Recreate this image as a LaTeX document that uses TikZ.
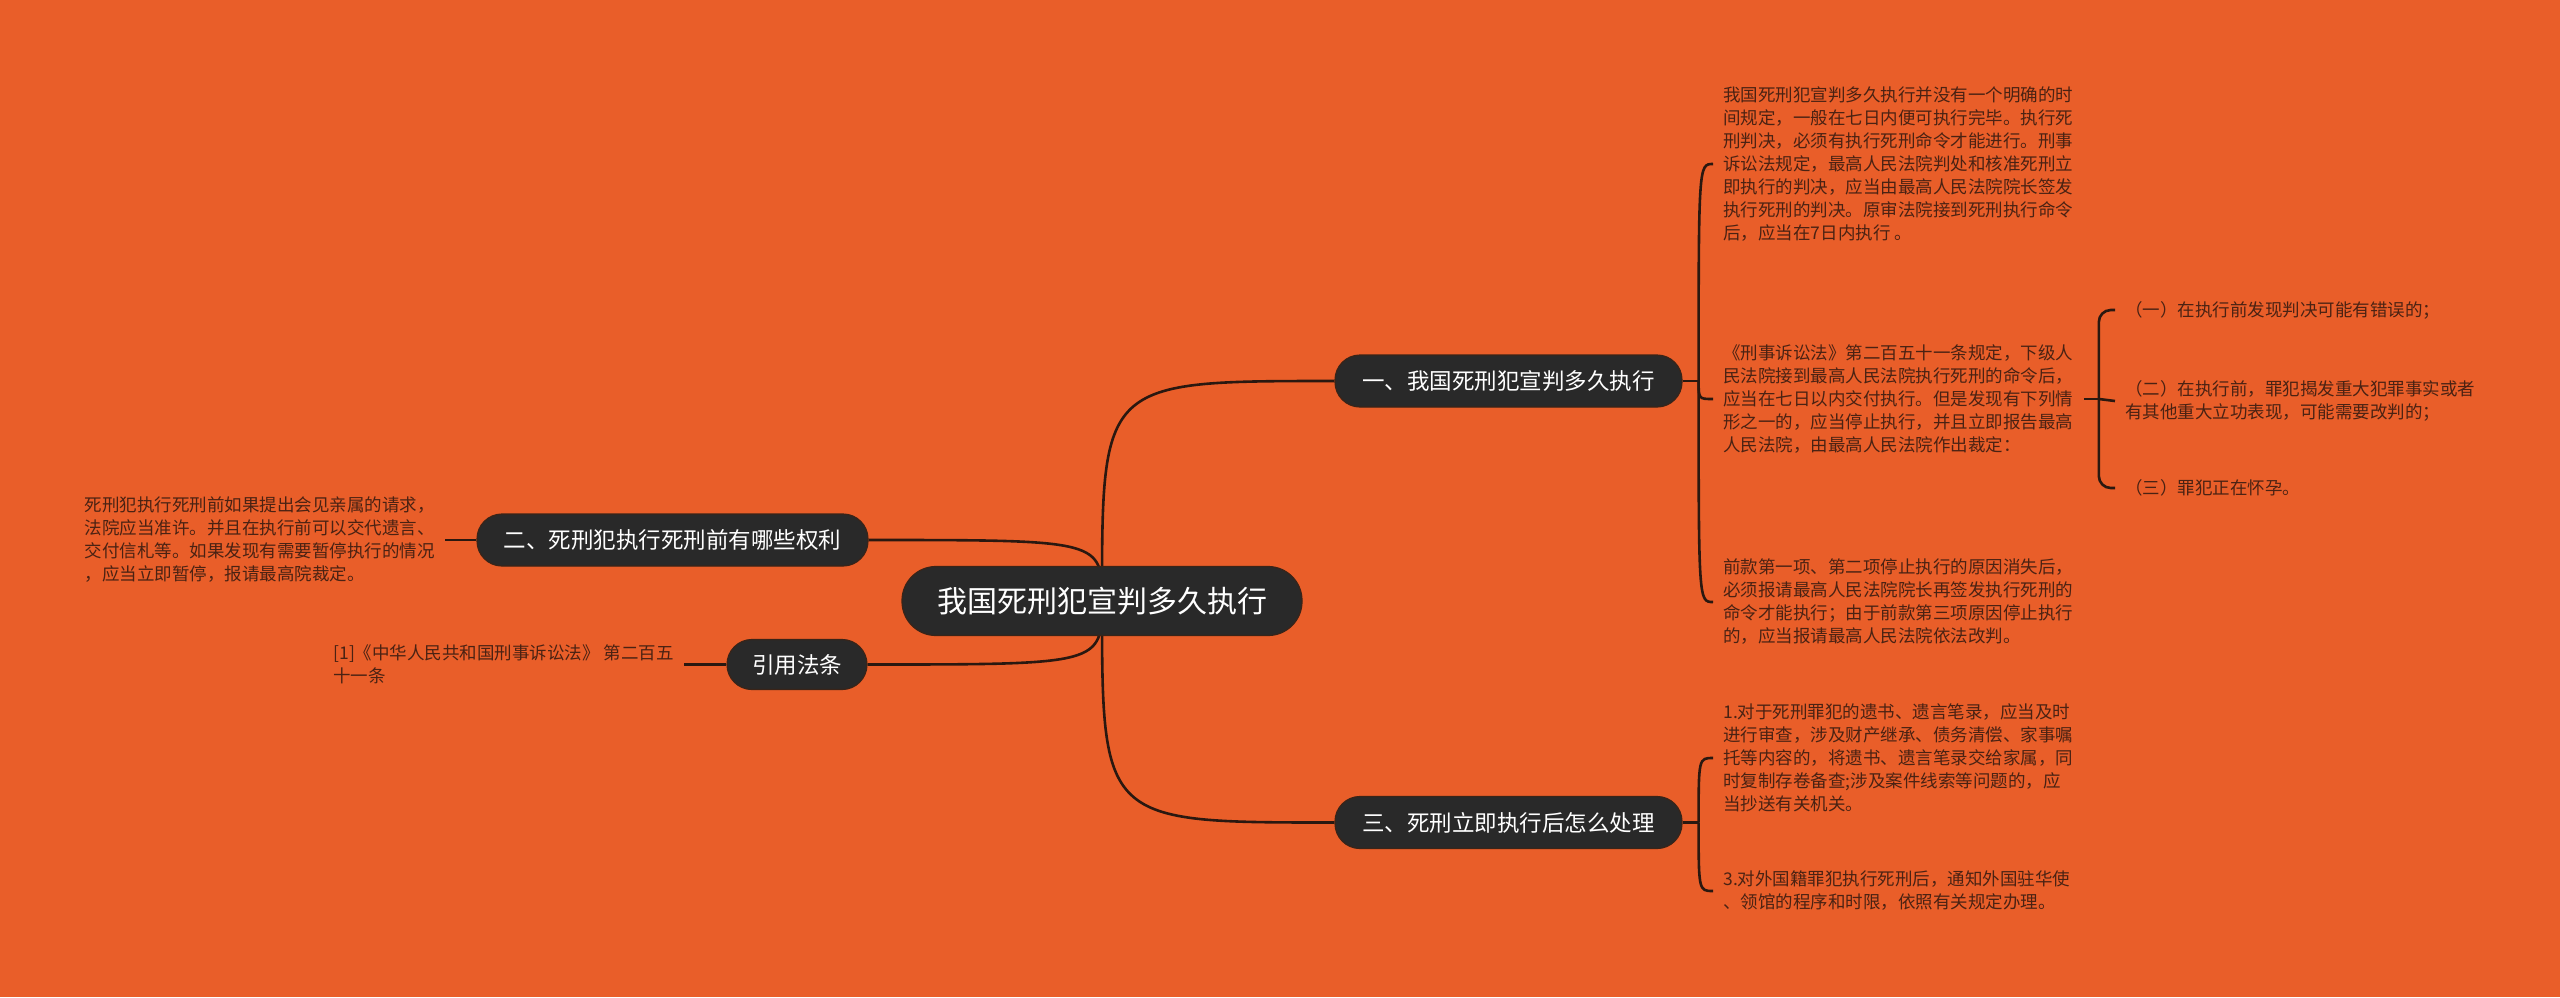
\documentclass[tikz,border=0pt]{standalone}
\usepackage{fontspec}
\newfontfamily\cjk{Noto Sans CJK SC}
\definecolor{bgor}{HTML}{E95E29}
\definecolor{boxc}{HTML}{292929}
\definecolor{boxline}{HTML}{3A2418}
\definecolor{leafc}{HTML}{4A2213}
\definecolor{linec}{HTML}{2A1810}
\pgfdeclarelayer{bglayer}
\pgfdeclarelayer{linelayer}
\pgfsetlayers{bglayer,linelayer,main}
\tikzset{
 rootbox/.style={fill=boxc, draw=boxline, line width=0.6pt, rounded corners=17pt, minimum width=200pt, minimum height=34.5pt, inner sep=0pt, text=white, font=\cjk\fontsize{15pt}{18pt}\selectfont},
 branchbox/.style={fill=boxc, draw=boxline, line width=0.6pt, rounded corners=12.5pt, minimum height=26pt, inner sep=0pt, text=white, font=\cjk\fontsize{11.25pt}{13.5pt}\selectfont},
 leaf/.style={align=left, inner xsep=5pt, inner ysep=0pt, text=leafc, font=\cjk\fontsize{8.75pt}{11.5pt}\selectfont},
 conn/.style={draw=linec, line width=1.3pt},
}
\begin{document}
\begin{tikzpicture}[x=0.5pt,y=-0.5pt]
\begin{pgfonlayer}{bglayer}
\fill[bgor] (0,0) rectangle (2560,997);
\end{pgfonlayer}
\useasboundingbox (0,0) rectangle (2560,997);

% main nodes
\node[rootbox] (root) at (1102,601) {我国死刑犯宣判多久执行};
\node[branchbox, minimum width=173.5pt] (b1) at (1508.5,381) {一、我国死刑犯宣判多久执行};
\node[branchbox, minimum width=195.5pt] (b2) at (672.5,540) {二、死刑犯执行死刑前有哪些权利};
\node[branchbox, minimum width=173.5pt] (b3) at (1508.5,822.5) {三、死刑立即执行后怎么处理};
\node[branchbox, minimum width=70pt, minimum height=25pt] (b4) at (797,664.5) {引用法条};

% leaves of branch 1
\node[leaf, anchor=west] (t1) at (1713,164) {我国死刑犯宣判多久执行并没有一个明确的时\\间规定，一般在七日内便可执行完毕。执行死\\刑判决，必须有执行死刑命令才能进行。刑事\\诉讼法规定，最高人民法院判处和核准死刑立\\即执行的判决，应当由最高人民法院院长签发\\执行死刑的判决。原审法院接到死刑执行命令\\后，应当在7日内执行 。};
\node[leaf, anchor=west] (t2) at (1713,399) {《刑事诉讼法》第二百五十一条规定，下级人\\民法院接到最高人民法院执行死刑的命令后，\\应当在七日以内交付执行。但是发现有下列情\\形之一的，应当停止执行，并且立即报告最高\\人民法院，由最高人民法院作出裁定：};
\node[leaf, anchor=west] (t3) at (1713,602) {前款第一项、第二项停止执行的原因消失后，\\必须报请最高人民法院院长再签发执行死刑的\\命令才能执行；由于前款第三项原因停止执行\\的，应当报请最高人民法院依法改判。};

% children of t2
\node[leaf, anchor=west] (c1) at (2115,310) {（一）在执行前发现判决可能有错误的；};
\node[leaf, anchor=west] (c2) at (2115,401) {（二）在执行前，罪犯揭发重大犯罪事实或者\\有其他重大立功表现，可能需要改判的；};
\node[leaf, anchor=west] (c3) at (2115,488) {（三）罪犯正在怀孕。};

% leaves of branch 3
\node[leaf, anchor=west] (t4) at (1713,758) {1.对于死刑罪犯的遗书、遗言笔录，应当及时\\进行审查，涉及财产继承、债务清偿、家事嘱\\托等内容的，将遗书、遗言笔录交给家属，同\\时复制存卷备查;涉及案件线索等问题的，应\\当抄送有关机关。};
\node[leaf, anchor=west] (t5) at (1713,891) {3.对外国籍罪犯执行死刑后，通知外国驻华使\\、领馆的程序和时限，依照有关规定办理。};

% leaf of branch 2
\node[leaf, anchor=east] (t6) at (445,540) {死刑犯执行死刑前如果提出会见亲属的请求，\\法院应当准许。并且在执行前可以交代遗言、\\交付信札等。如果发现有需要暂停执行的情况\\，应当立即暂停，报请最高院裁定。};

% leaf of branch 4
\node[leaf, anchor=west] (t7) at (323,664.5) {[1]《中华人民共和国刑事诉讼法》 第二百五\\十一条};

\begin{pgfonlayer}{linelayer}
\draw[conn] (root.center) .. controls (root.center |- b1.west) .. (b1.west);
\draw[conn] (root.center) .. controls (root.center |- b2.east) .. (b2.east);
\draw[conn] (root.center) .. controls (root.center |- b3.west) .. (b3.west);
\draw[conn] (root.center) .. controls (root.center |- b4.east) .. (b4.east);

\draw[conn] (b1.east) -- ++(16,0) coordinate (j1);
\draw[conn] (j1) .. controls (j1 |- t1.west) .. (t1.west);
\draw[conn] (j1) .. controls (j1 |- t2.west) .. (t2.west);
\draw[conn] (j1) .. controls (j1 |- t3.west) .. (t3.west);

\draw[conn] (b3.east) -- ++(16,0) coordinate (j3);
\draw[conn] (j3) .. controls (j3 |- t4.west) .. (t4.west);
\draw[conn] (j3) .. controls (j3 |- t5.west) .. (t5.west);

\draw[conn] (t2.east) -- ++(15,0) coordinate (j2);
\draw[conn, rounded corners=6pt] (j2) |- (c1.west);
\draw[conn] (j2) -- (c2.west);
\draw[conn, rounded corners=6pt] (j2) |- (c3.west);

\draw[conn] (t6.east) -- (b2.west);
\draw[conn] (t7.east) -- (b4.west);
\end{pgfonlayer}
\end{tikzpicture}
\end{document}
